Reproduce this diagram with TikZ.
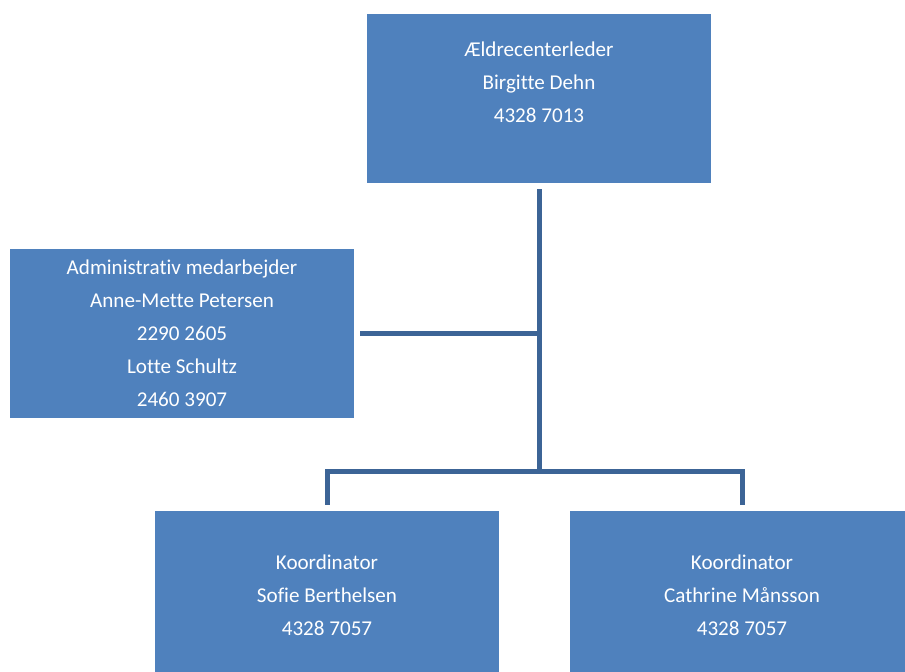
\documentclass[tikz,border=0pt]{standalone}
\usepackage{fontspec}
\setmainfont{Carlito}[Ligatures={NoCommon}]
\usepackage{tikz}
\usetikzlibrary{calc,positioning}
\definecolor{boxblue}{HTML}{4F81BD}
\definecolor{lineblue}{HTML}{3C6496}
\tikzstyle{post} = [rectangle, fill=boxblue, text=white, minimum width=344pt,
                    minimum height=169pt, inner sep=0pt, align=center,
                    font=\fontsize{21.1}{33}\selectfont]
\tikzstyle{link} = [draw=lineblue, line width=5pt]

\begin{document}
\begin{tikzpicture}[x=1pt,y=-1pt]
        \useasboundingbox (0,0) rectangle (905,672);
        \fill[white] (0,0) rectangle (905,672);

        \node[post] (leder) at (539,98.5) {Ældrecenterleder\\Birgitte Dehn\\4328 7013\\\mbox{}};
        \node[post] (admin) at (182,333.5) {Administrativ medarbejder\\Anne-Mette Petersen\\2290 2605\\Lotte Schultz\\2460 3907};
        \node[post] (koordA) at (327,595.5) {Koordinator\\Sofie Berthelsen\\4328 7057};
        \node[post] (koordB) at (742,595.5) {Koordinator\\Cathrine Månsson\\4328 7057};

        \coordinate (hub) at (539,333.5);
        \coordinate (split) at (539,471);

        \draw[link] ([yshift=-6pt]leder.south) -- (split);
        \draw[link] ([xshift=6pt]admin.east) -- (hub);
        \draw[link] ([yshift=6pt]koordA.north) |- (split) -| ([yshift=6pt]koordB.north);
    \end{tikzpicture}
\end{document}
